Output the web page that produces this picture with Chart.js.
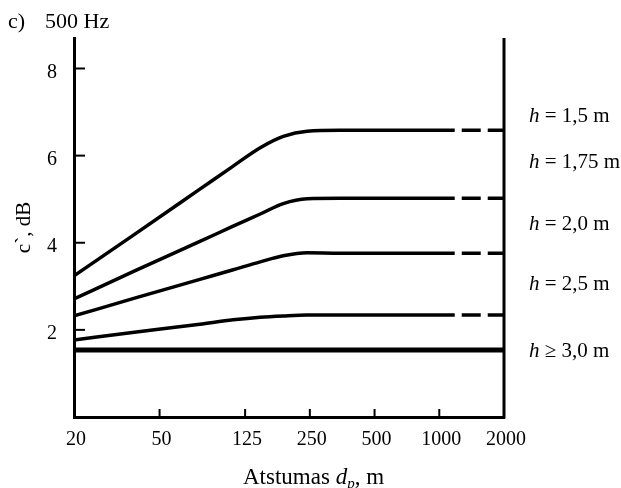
<!DOCTYPE html>
<html>
<head>
<meta charset="utf-8">
<script src="https://cdn.jsdelivr.net/npm/chart.js@4.4.0/dist/chart.umd.min.js"></script>
<style>
  html, body { margin: 0; padding: 0; background: #fff; }
</style>
</head>
<body>
<canvas id="chart" width="621" height="488"></canvas>
<script>
// distance along the road, m (log axis)
const distances = [20, 39, 77, 110, 147, 188, 243, 345, 1180, 2000];

// c', dB for each height
const h15 = [3.24, 4.22, 5.23, 5.76, 6.18, 6.44, 6.56, 6.58, 6.58, 6.58];
const h175 = [2.71, 3.37, 4.03, 4.38, 4.66, 4.90, 5.01, 5.02, 5.02, 5.02];
const h20 = [2.32, 2.74, 3.16, 3.38, 3.56, 3.70, 3.77, 3.76, 3.76, 3.76];
const h25 = [1.77, 1.95, 2.13, 2.23, 2.29, 2.32, 2.34, 2.34, 2.34, 2.34];
const h30 = [1.54, 1.54, 1.54, 1.54, 1.54, 1.54, 1.54, 1.54, 1.54, 1.54];

const xTicks = [20, 50, 125, 250, 500, 1000, 2000];
const yTicks = [2, 4, 6, 8];

const curveSigns = ['=', '=', '=', '=', '\u2265'];
const curveNames = ['1,5 m', '1,75 m', '2,0 m', '2,5 m', '3,0 m'];
const labelAt = [6.90, 5.85, 4.43, 3.05, 1.50];

// beyond this distance the curves are dashed
const dashFrom = 1180;

const serif = '"Liberation Serif", "Times New Roman", serif';

function series(values, width, dashed) {
  const ds = {
    data: distances.map((d, i) => ({ x: d, y: values[i] })),
    borderColor: '#000',
    borderWidth: width,
    pointRadius: 0,
    fill: false,
    cubicInterpolationMode: 'monotone'
  };
  if (dashed) {
    ds.segment = {
      borderDash: c => c.p0.parsed.x >= dashFrom ? [19, 7] : undefined,
      borderDashOffset: c => c.p0.parsed.x >= dashFrom ? 19 : undefined
    };
  }
  return ds;
}

const decor = {
  id: 'decor',
  afterDraw(chart) {
    const { ctx, chartArea: a } = chart;
    const x = chart.scales.x, y = chart.scales.y;
    ctx.save();
    ctx.strokeStyle = '#000';
    ctx.fillStyle = '#000';

    // right axis
    ctx.lineWidth = 3;
    ctx.beginPath();
    ctx.moveTo(a.right, a.top);
    ctx.lineTo(a.right, a.bottom + 1.5);
    ctx.stroke();

    // ticks pointing inward
    ctx.lineWidth = 2;
    yTicks.forEach(v => {
      const py = y.getPixelForValue(v);
      ctx.beginPath();
      ctx.moveTo(a.left, py);
      ctx.lineTo(a.left + 11, py);
      ctx.stroke();
    });
    xTicks.slice(1, -1).forEach(v => {
      const px = x.getPixelForValue(v);
      ctx.beginPath();
      ctx.moveTo(px, a.bottom);
      ctx.lineTo(px, a.bottom - 8);
      ctx.stroke();
    });

    // panel title
    ctx.font = '22px ' + serif;
    ctx.textBaseline = 'alphabetic';
    ctx.textAlign = 'left';
    ctx.fillText('c)', 8, 28);
    ctx.fillText('500 Hz', 45, 28);

    // y title
    ctx.save();
    ctx.font = '21px ' + serif;
    ctx.translate(30, (a.top + a.bottom) / 2);
    ctx.rotate(-Math.PI / 2);
    ctx.textAlign = 'center';
    ctx.fillText('c`, dB', 0, 0);
    ctx.restore();

    // x title with italic d and subscript p
    let tx = 243;
    const by = 484;
    ctx.font = '23px ' + serif;
    ctx.fillText('Atstumas ', tx, by);
    tx += ctx.measureText('Atstumas ').width;
    ctx.font = 'italic 23px ' + serif;
    ctx.fillText('d', tx, by);
    tx += ctx.measureText('d').width;
    ctx.font = 'italic 15px ' + serif;
    ctx.fillText('p', tx, by + 4);
    tx += ctx.measureText('p').width;
    ctx.font = '23px ' + serif;
    ctx.fillText(', m', tx, by);

    // curve labels on the right
    ctx.textBaseline = 'middle';
    curveNames.forEach((name, i) => {
      const py = y.getPixelForValue(labelAt[i]);
      let lx = 529;
      ctx.font = 'italic 21px ' + serif;
      ctx.fillText('h', lx, py);
      lx += ctx.measureText('h').width;
      ctx.font = '21px ' + serif;
      ctx.fillText(' ' + curveSigns[i] + ' ' + name, lx, py);
    });
    ctx.restore();
  }
};

new Chart(document.getElementById('chart').getContext('2d'), {
  type: 'line',
  data: {
    datasets: [
      series(h15, 3.5, true),
      series(h175, 3.5, true),
      series(h20, 3.5, true),
      series(h25, 3.5, true),
      series(h30, 5, false)
    ]
  },
  options: {
    responsive: false,
    animation: false,
    layout: { padding: { top: 38, right: 117, left: 0, bottom: 0 } },
    plugins: {
      legend: { display: false },
      tooltip: { enabled: false }
    },
    scales: {
      x: {
        type: 'logarithmic',
        min: 20,
        max: 2000,
        afterBuildTicks: s => { s.ticks = xTicks.map(v => ({ value: v })); },
        afterFit: s => { s.height = 71; },
        grid: { display: false, drawTicks: false },
        border: { display: true, color: '#000', width: 3 },
        ticks: {
          autoSkip: false,
          maxRotation: 0,
          padding: 11,
          labelOffset: 2,
          color: '#000',
          font: { family: serif, size: 20 },
          callback: v => String(v)
        }
      },
      y: {
        type: 'linear',
        min: 0,
        max: 8.7,
        afterBuildTicks: s => { s.ticks = yTicks.map(v => ({ value: v })); },
        afterFit: s => { s.width = 74; },
        grid: { display: false, drawTicks: false },
        border: { display: true, color: '#000', width: 3 },
        ticks: {
          padding: 17,
          labelOffset: 4,
          color: '#000',
          font: { family: serif, size: 20 }
        }
      }
    }
  },
  plugins: [decor]
});
</script>
</body>
</html>
